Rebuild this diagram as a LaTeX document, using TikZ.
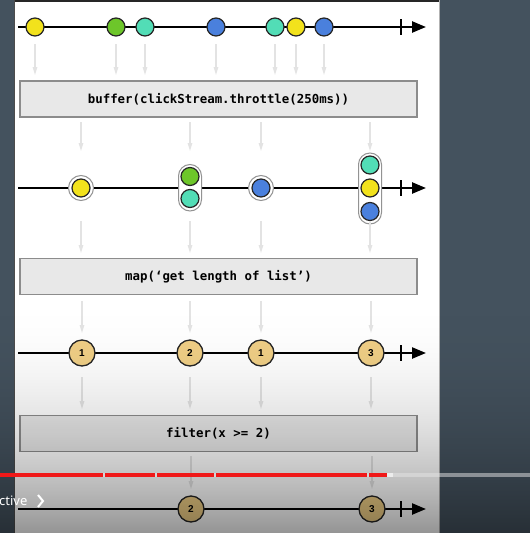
\documentclass[tikz,border=0pt]{standalone}
\usepackage{fontspec}
\setmainfont{Liberation Sans}
\newfontfamily\monofont{DejaVu Sans Mono}
\newfontfamily\uifont{Noto Sans}
\usetikzlibrary{arrows.meta}
\definecolor{bgdark}{HTML}{44525E}
\definecolor{myyellow}{HTML}{F2E21C}
\definecolor{mygreen}{HTML}{6DC62A}
\definecolor{myteal}{HTML}{52DDB6}
\definecolor{myblue}{HTML}{4A80DD}
\definecolor{mytan}{HTML}{F0CF86}
\definecolor{ytred}{HTML}{F01818}
\begin{document}
\begin{tikzpicture}[x=1pt,y=-1pt,
  axis/.style={line width=2.4pt, black},
  tickmark/.style={line width=2.4pt, black},
  tiphead/.style={-{Triangle[length=14pt,width=11pt]}},
  marble/.style={circle, draw=black!85, line width=1.2pt, minimum size=18pt, inner sep=0pt},
  ring/.style={circle, draw=gray!85, fill=white, line width=1pt, minimum size=25pt, inner sep=0pt},
  capsule/.style={draw=gray!85, fill=white, line width=1pt, rounded corners=11.5pt},
  opbox/.style={draw=gray!90, fill=gray!18, line width=1.2pt, minimum width=397pt, minimum height=36pt, inner sep=0pt,
     font=\monofont\bfseries\fontsize{12.4}{14}\selectfont},
  numball/.style={circle, draw=black!85, line width=1.3pt, fill=mytan, minimum size=26pt, inner sep=0pt,
     font=\bfseries\fontsize{10}{11}\selectfont},
  garrow/.style={draw=gray!22, line width=1.1pt, -{Triangle[length=8pt,width=4.5pt]}},
]
\useasboundingbox (0,0) rectangle (530,533);
% background
\fill[bgdark] (0,0) rectangle (530,533);
\fill[white] (14,0) rectangle (439,533);
\fill[black!85] (14,0) rectangle (439,2);
\draw[black!70, line width=1.2pt] (14.5,0) -- (14.5,533);
\draw[gray!60, line width=0.6pt] (439,0) -- (439,533);

% ---------- row 1 ----------
\coordinate (s1) at (18,27); \coordinate (e1) at (426,27);
\draw[axis, tiphead] (s1) -- (e1);
\draw[tickmark] (401,19) -- (401,35);
\foreach \nm/\x/\c in {a1/35/myyellow, a2/116/mygreen, a3/145/myteal, a4/216/myblue, a5/275/myteal, a6/296/myyellow, a7/324/myblue}{
  \node[marble, fill=\c] (\nm) at (\x,27) {};
}
\foreach \nm/\x in {1/35, 2/116, 3/145, 4/216, 5/275, 6/296, 7/324}{
  \coordinate (u\nm) at (\x,44); \coordinate (v\nm) at (\x,75);
  \draw[garrow] (u\nm) -- (v\nm);
}
\node[opbox] (box1) at (218.5,99) {buffer(clickStream.throttle(250ms))};

% ---------- row 2 ----------
\foreach \nm/\x in {1/81, 2/190, 3/261, 4/370}{
  \coordinate (p\nm) at (\x,122); \coordinate (q\nm) at (\x,151);
  \draw[garrow] (p\nm) -- (q\nm);
}
\coordinate (s2) at (18,188); \coordinate (e2) at (426,188);
\draw[axis, tiphead] (s2) -- (e2);
\draw[tickmark] (401,180) -- (401,196);
\node[ring] (r1) at (81,188) {};
\node[marble, fill=myyellow] (b1) at (81,188) {};
\draw[capsule] (178.5,164.5) rectangle (201.5,211);
\node[marble, fill=mygreen] (b2) at (190,176.5) {};
\node[marble, fill=myteal] (b3) at (190,198.5) {};
\node[ring] (r3) at (261,188) {};
\node[marble, fill=myblue] (b4) at (261,188) {};
\draw[capsule] (358.5,153) rectangle (381.5,224);
\node[marble, fill=myteal] (b5) at (370,165) {};
\node[marble, fill=myyellow] (b6) at (370,188) {};
\node[marble, fill=myblue] (b7) at (370,211.5) {};
\foreach \nm/\x in {1/81, 2/190, 3/261, 4/370}{
  \coordinate (m\nm) at (\x,221); \coordinate (n\nm) at (\x,253);
  \draw[garrow] (m\nm) -- (n\nm);
}
\node[opbox] (box2) at (218.5,276.5) {map(‘get length of list’)};

% ---------- row 3 ----------
\foreach \nm/\x in {1/82, 2/190, 3/261, 4/371}{
  \coordinate (f\nm) at (\x,301); \coordinate (g\nm) at (\x,333);
  \draw[garrow] (f\nm) -- (g\nm);
}
\coordinate (s3) at (18,353); \coordinate (e3) at (426,353);
\draw[axis, tiphead] (s3) -- (e3);
\draw[tickmark] (401,345) -- (401,361);
\node[numball] (c1) at (82,353) {1};
\node[numball] (c2) at (190,353) {2};
\node[numball] (c3) at (261,353) {1};
\node[numball] (c4) at (371,353) {3};
\foreach \nm/\x in {1/82, 2/190, 3/261, 4/371}{
  \coordinate (h\nm) at (\x,377); \coordinate (k\nm) at (\x,409);
  \draw[garrow] (h\nm) -- (k\nm);
}
\node[opbox] (box3) at (218.5,433.5) {filter(x >= 2)};

% ---------- row 4 ----------
\foreach \nm/\x in {1/191, 2/372}{
  \coordinate (w\nm) at (\x,456); \coordinate (z\nm) at (\x,489);
  \draw[garrow] (w\nm) -- (z\nm);
}
\coordinate (s4) at (18,509); \coordinate (e4) at (426,509);
\draw[axis, tiphead] (s4) -- (e4);
\draw[tickmark] (401,501) -- (401,517);
\node[numball] (d1) at (191,509) {2};
\node[numball] (d2) at (372,509) {3};

% ---------- video overlay ----------
\foreach \yy in {300,...,532}{
  \pgfmathsetmacro\op{0.42*((\yy-300)/233)^2}
  \fill[black, opacity=\op] (0,\yy) rectangle (530,\yy+1);
}
\fill[white!80!gray, opacity=0.5] (0,473) rectangle (530,477);
\fill[ytred] (0,473) rectangle (103,477);
\fill[ytred] (105,473) rectangle (155,477);
\fill[ytred] (157,473) rectangle (214,477);
\fill[ytred] (216,473) rectangle (367,477);
\fill[ytred] (369,473) rectangle (387,477);
\fill[white!85!gray] (387,473) rectangle (393,477);
\node[anchor=west, inner sep=0pt, text=white, font=\uifont\fontsize{13}{15}\selectfont] (ctv) at (-1,501) {ctive};
\draw[white, line width=2pt] (38,495) -- (43,501) -- (38,507);
\end{tikzpicture}
\end{document}
